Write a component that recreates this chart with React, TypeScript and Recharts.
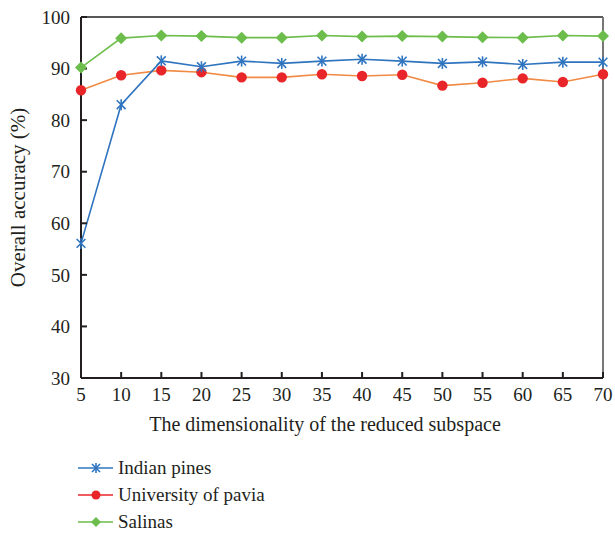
import { Line, LineChart, ReferenceLine, XAxis, YAxis } from "recharts";

const dims = [5, 10, 15, 20, 25, 30, 35, 40, 45, 50, 55, 60, 65, 70];
const indianPines = [56.1, 83.0, 91.5, 90.35, 91.45, 91.0, 91.45, 91.8, 91.45, 91.0, 91.3, 90.8, 91.25, 91.25];
const universityOfPavia = [85.8, 88.7, 89.65, 89.3, 88.3, 88.3, 88.9, 88.55, 88.8, 86.7, 87.25, 88.1, 87.4, 88.9];
const salinas = [90.2, 95.9, 96.4, 96.3, 96.0, 96.0, 96.4, 96.2, 96.3, 96.2, 96.05, 96.0, 96.4, 96.3];
const yTicks = [30, 40, 50, 60, 70, 80, 90, 100];

const data = dims.map((d, i) => ({
  dim: d,
  indian: indianPines[i],
  pavia: universityOfPavia[i],
  salinas: salinas[i],
}));

const FONT = "'Liberation Serif', 'DejaVu Serif', serif";
const INK = "#231f20";
const BLUE = "#2f74bf";
const RED = "#e8262a";
const ORANGE = "#f08a45";
const GREEN = "#6cbd4c";

function Star({ cx, cy, color = BLUE, r = 5.5 }: { cx: number; cy: number; color?: string; r?: number }) {
  const d = r * 0.8;
  return (
    <g stroke={color} strokeWidth={1.6}>
      <line x1={cx - d} y1={cy - d} x2={cx + d} y2={cy + d} />
      <line x1={cx - d} y1={cy + d} x2={cx + d} y2={cy - d} />
      <line x1={cx} y1={cy - r} x2={cx} y2={cy + r} />
    </g>
  );
}

function Diamond({ cx, cy, color = GREEN, r = 6 }: { cx: number; cy: number; color?: string; r?: number }) {
  return <path d={`M${cx},${cy - r}L${cx + r},${cy}L${cx},${cy + r}L${cx - r},${cy}Z`} fill={color} />;
}

function LegendBox() {
  const rows = [
    { label: "Indian pines", line: BLUE, mark: (x: number, y: number) => <Star cx={x} cy={y} r={5} /> },
    { label: "University of pavia", line: RED, mark: (x: number, y: number) => <circle cx={x} cy={y} r={4.5} fill={RED} /> },
    { label: "Salinas", line: GREEN, mark: (x: number, y: number) => <Diamond cx={x} cy={y} r={5} /> },
  ];
  return (
    <div style={{ position: "absolute", left: 78, top: 454, fontFamily: FONT, fontSize: 19, color: INK }}>
      {rows.map((row) => (
        <div key={row.label} style={{ display: "flex", alignItems: "center", height: 27 }}>
          <svg width={35} height={14} style={{ marginRight: 5 }}>
            <line x1={0} y1={7} x2={35} y2={7} stroke={row.line} strokeWidth={1.6} />
            {row.mark(18, 7)}
          </svg>
          <span>{row.label}</span>
        </div>
      ))}
    </div>
  );
}

export default function App() {
  const tickStyle = { fontFamily: FONT, fontSize: 19, fill: INK };
  return (
    <div style={{ position: "absolute", left: 0, top: 0, width: 615, height: 534 }}>
      <LineChart width={615} height={534} data={data} margin={{ top: 17, right: 12, bottom: 0, left: 0 }}>
        <XAxis
          dataKey="dim"
          type="number"
          domain={[5, 70]}
          ticks={dims}
          interval={0}
          height={156}
          tickSize={-6}
          tickMargin={16}
          stroke={INK}
          strokeWidth={2}
          tick={tickStyle}
          label={{
            value: "The dimensionality of the reduced subspace",
            position: "insideTop",
            offset: 39,
            dx: -17,
            style: { fontFamily: FONT, fontSize: 20, fill: INK },
          }}
        />
        <YAxis
          type="number"
          domain={[30, 100]}
          ticks={yTicks}
          interval={0}
          width={81}
          tickSize={-6}
          tickMargin={17}
          stroke={INK}
          strokeWidth={2}
          tick={tickStyle}
          label={{
            value: "Overall accuracy (%)",
            content: (props: any) => {
              const vb = props.viewBox;
              const cy = vb.y + vb.height / 2;
              return (
                <text
                  x={18}
                  y={cy}
                  transform={`rotate(-90, 18, ${cy})`}
                  textAnchor="middle"
                  dominantBaseline="central"
                  style={{ fontFamily: FONT, fontSize: 21, fill: INK }}
                >
                  Overall accuracy (%)
                </text>
              );
            },
          }}
        />
        <ReferenceLine y={100} stroke={INK} strokeWidth={1.5} />
        <ReferenceLine x={70} stroke="#777" strokeWidth={2} />
        <Line
          dataKey="salinas"
          stroke={GREEN}
          strokeWidth={1.6}
          isAnimationActive={false}
          dot={(p: any) => <Diamond key={`s-${p.index}`} cx={p.cx} cy={p.cy} />}
        />
        <Line
          dataKey="pavia"
          stroke={ORANGE}
          strokeWidth={1.6}
          isAnimationActive={false}
          dot={(p: any) => <circle key={`p-${p.index}`} cx={p.cx} cy={p.cy} r={5.2} fill={RED} />}
        />
        <Line
          dataKey="indian"
          stroke={BLUE}
          strokeWidth={1.6}
          isAnimationActive={false}
          dot={(p: any) => <Star key={`i-${p.index}`} cx={p.cx} cy={p.cy} />}
        />
      </LineChart>
      <LegendBox />
    </div>
  );
}
